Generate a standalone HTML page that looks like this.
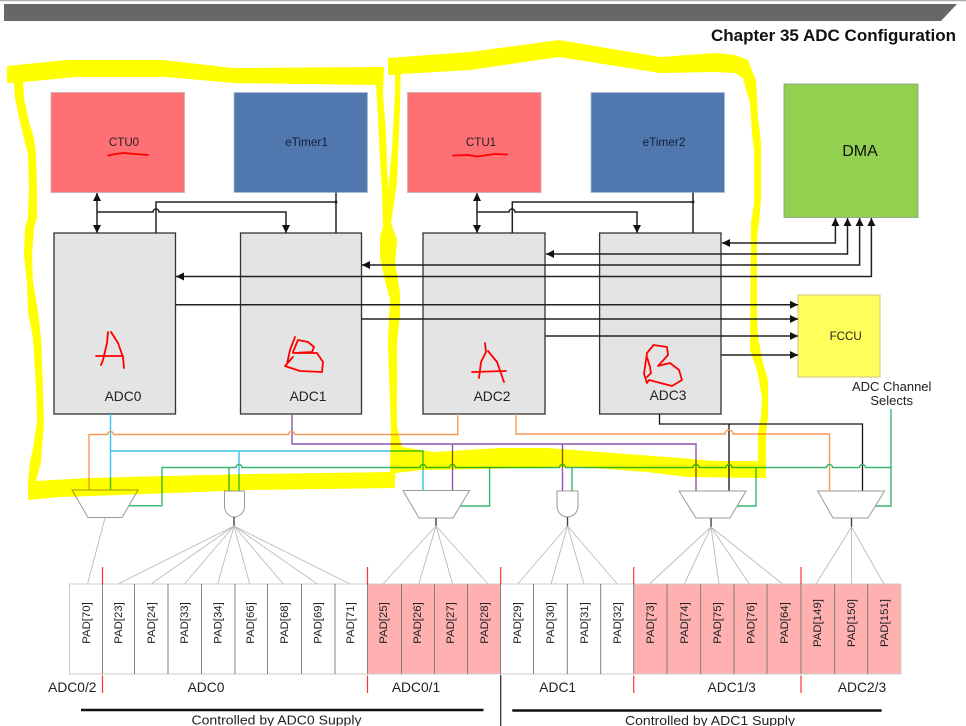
<!DOCTYPE html>
<html><head><meta charset="utf-8"><style>
html,body{margin:0;padding:0;background:#fff}
svg{display:block;filter:blur(.35px)}
text{font-family:"Liberation Sans",sans-serif;fill:#222}
.c{text-anchor:middle}
.l{fill:none;stroke:#222;stroke-width:1.5}
.g{fill:none;stroke:#3bb56e;stroke-width:1.4}
.o{fill:none;stroke:#f59a5a;stroke-width:1.4}
.b{fill:none;stroke:#38c0ee;stroke-width:1.4}
.p{fill:none;stroke:#8c54b4;stroke-width:1.4}
.k{fill:none;stroke:#111;stroke-width:1.3}
.f{stroke:#bbb;stroke-width:.9;fill:none}
.s{stroke:#444;stroke-width:1.4;fill:none}
.adc{fill:#e4e4e4;stroke:#333;stroke-width:1.3}
.m{fill:#fff;stroke:#999;stroke-width:1}
.r{fill:none;stroke:#f00;stroke-width:1.8;stroke-linejoin:round;stroke-linecap:round}
.t{stroke:#f33;stroke-width:1.2}
.d{stroke:#777;stroke-width:.9}
.pad{font-size:11.4px}
.lab{font-size:13.8px}
</style></head><body>
<svg width="966" height="726" viewBox="0 0 966 726" xmlns="http://www.w3.org/2000/svg">
<defs>
<marker id="a" markerUnits="userSpaceOnUse" markerWidth="9" markerHeight="8" refX="8" refY="4" orient="auto-start-reverse"><path d="M0 0L8 4L0 8Z" fill="#111"/></marker>
</defs>
<rect x="0" y="0" width="966" height="1.2" fill="#aaa"/>
<path d="M4 4H957L941 21H4Z" fill="#676767"/>
<text x="711" y="41" font-size="16.5" font-weight="700" textLength="245" lengthAdjust="spacingAndGlyphs" style="fill:#111">Chapter 35 ADC Configuration</text>

<!-- top blocks -->
<rect x="51" y="92.5" width="133.500" height="100" fill="#ff7074" stroke="#c9b0b0" stroke-width=".8"/>
<rect x="234" y="92.5" width="133.500" height="100" fill="#5078ae" stroke="#a9bcd6" stroke-width=".8"/>
<rect x="407.500" y="92.5" width="133.500" height="100" fill="#ff7074" stroke="#c9b0b0" stroke-width=".8"/>
<rect x="591" y="92.5" width="133.500" height="100" fill="#5078ae" stroke="#a9bcd6" stroke-width=".8"/>
<rect x="784" y="84" width="134" height="133.500" fill="#92d050" stroke="#8a9a80" stroke-width=".8"/>
<rect x="798" y="295" width="82" height="82" fill="#ffff5c" stroke="#c8c878" stroke-width="1"/>
<text class="c" x="124" y="146" font-size="11.6">CTU0</text>
<text class="c" x="306.500" y="146" font-size="11.800" style="fill:#10203a">eTimer1</text>
<text class="c" x="481" y="146" font-size="11.6">CTU1</text>
<text class="c" x="664" y="146" font-size="11.800" style="fill:#10203a">eTimer2</text>
<text class="c" x="860" y="156" font-size="16" style="fill:#111">DMA</text>
<text class="c" x="845.700" y="340" font-size="11.6">FCCU</text>

<!-- ADC blocks -->
<rect class="adc" x="54" y="233" width="121.500" height="181"/>
<rect class="adc" x="240.500" y="233" width="121" height="181"/>
<rect class="adc" x="423" y="233" width="122" height="181"/>
<rect class="adc" x="599.600" y="233" width="121.400" height="181"/>
<text class="c lab" x="123" y="401">ADC0</text>
<text class="c lab" x="308" y="401">ADC1</text>
<text class="c lab" x="492" y="401">ADC2</text>
<text class="c lab" x="668" y="400">ADC3</text>

<!-- top connectors -->
<path class="l" d="M97 193V233" marker-start="url(#a)" marker-end="url(#a)"/>
<path class="l" d="M97 212H153a3 3 0 0 1 6 0H286V233" marker-end="url(#a)"/>
<path class="l" d="M156 233V202H336M336 192.500V233"/>
<circle cx="336" cy="202" r="1.5" fill="#222"/>
<path class="l" d="M477 193V233" marker-start="url(#a)" marker-end="url(#a)"/>
<path class="l" d="M477 212H509a3 3 0 0 1 6 0H637V233" marker-end="url(#a)"/>
<path class="l" d="M512.300 233V202H693M693 192.500V233"/>
<circle cx="693" cy="202" r="1.5" fill="#222"/>

<!-- DMA lines -->
<path class="l" d="M835.400 218V243H722" marker-start="url(#a)" marker-end="url(#a)"/>
<path class="l" d="M847.500 218V254H546" marker-start="url(#a)" marker-end="url(#a)"/>
<path class="l" d="M859.600 218V265H362" marker-start="url(#a)" marker-end="url(#a)"/>
<path class="l" d="M871.400 218V276.500H176" marker-start="url(#a)" marker-end="url(#a)"/>
<!-- FCCU lines -->
<path class="l" d="M175.500 304.700H798" marker-end="url(#a)"/>
<path class="l" d="M361.500 319H798" marker-end="url(#a)"/>
<path class="l" d="M545 336H798" marker-end="url(#a)"/>
<path class="l" d="M721 355H798" marker-end="url(#a)"/>

<!-- bottom colored nets -->
<path class="b" d="M110.500 414V490M110.500 451H423V490M239 451V491"/>
<path class="p" d="M292 414V444H696V490.500M452.500 444V490.500M562.500 444V491"/>
<path class="k" d="M659.500 414V424H862.500V490.700M729 424V490.700"/>
<path class="o" d="M457.700 414V434.500H294.500a3 3 0 0 0 -6 0H113.500a3 3 0 0 0 -6 0H89V490"/>
<path class="o" d="M516 414V434H725a4 4 0 0 1 8 0H829.500V490.700"/>
<path class="g" d="M129 505.700H162V467.500H236a3 3 0 0 1 6 0H420a3 3 0 0 1 6 0H449.500a3 3 0 0 1 6 0H559.500a3 3 0 0 1 6 0H693a3 3 0 0 1 6 0H726a3 3 0 0 1 6 0H826.500a3 3 0 0 1 6 0H859.500a3 3 0 0 1 6 0H891"/>
<path class="g" d="M229 467.500V491M489.600 467.500V506H460M572 467.500V491M756 467.500V506H737M891 409V506H875"/>

<!-- muxes and gates -->
<path class="m" d="M72 490H138L122 517.500H88Z"/>
<path class="m" d="M403 490.500H469.500L453 518H419Z"/>
<path class="m" d="M679 491H746L730 518H696Z"/>
<path class="m" d="M817.700 491H884.500L868 518H833Z"/>
<path class="m" d="M224.500 491H244.500V506A10 11 0 0 1 224.500 506Z"/>
<path class="m" d="M557 491H578V506A10.500 11 0 0 1 557 506Z"/>

<!-- stubs -->
<path class="s" d="M234 517V526M436 518V526M567.500 517V526M711 518V527M851.500 518V527"/>
<!-- fans -->
<path class="f" d="M105 518L87.500 584"/>
<path class="f" d="M234 526L118 584M234 526L151 584M234 526L184.500 584M234 526L217.700 584M234 526L249.700 584M234 526L283.300 584M234 526L317.300 584M234 526L350 584"/>
<path class="f" d="M436 526L383 584M436 526L418.700 584M436 526L452.600 584M436 526L488 584"/>
<path class="f" d="M567.500 526L517.700 584M567.500 526L551 584M567.500 526L584 584M567.500 526L617.300 584"/>
<path class="f" d="M711 527L649.300 584M711 527L684.300 584M711 527L719 584M711 527L749.300 584M711 527L782.700 584"/>
<path class="f" d="M851.500 527L816 584M851.500 527V584M851.500 527L884 584"/>

<!-- pads -->
<rect x="69.500" y="584" width="298" height="90" fill="#fff"/>
<rect x="367.500" y="584" width="133" height="90" fill="#ffb0b0"/>
<rect x="500.500" y="584" width="133.200" height="90" fill="#fff"/>
<rect x="633.700" y="584" width="267.300" height="90" fill="#ffb0b0"/>
<rect x="69.500" y="584" width="831.500" height="90" fill="none" stroke="#ccc" stroke-width="1"/>
<path class="d" d="M102.500 584V674M134.500 584V674M168 584V674M201.500 584V674M235 584V674M267.500 584V674M301.500 584V674M335 584V674M367.500 584V674M401.500 584V674M434.500 584V674M467.500 584V674M500.500 584V674M533.500 584V674M567.300 584V674M600.700 584V674M633.700 584V674M667 584V674M700.700 584V674M734 584V674M767 584V674M801 584V674M834.700 584V674M867.700 584V674"/>
<g class="pad">
<text class="c" transform="translate(90 623) rotate(-90)">PAD[70]</text>
<text class="c" transform="translate(122 623) rotate(-90)">PAD[23]</text>
<text class="c" transform="translate(155 623) rotate(-90)">PAD[24]</text>
<text class="c" transform="translate(188 623) rotate(-90)">PAD[33]</text>
<text class="c" transform="translate(221.500 623) rotate(-90)">PAD[34]</text>
<text class="c" transform="translate(254 623) rotate(-90)">PAD[66]</text>
<text class="c" transform="translate(288 623) rotate(-90)">PAD[68]</text>
<text class="c" transform="translate(321.500 623) rotate(-90)">PAD[69]</text>
<text class="c" transform="translate(354 623) rotate(-90)">PAD[71]</text>
<text class="c" transform="translate(387 623) rotate(-90)">PAD[25]</text>
<text class="c" transform="translate(421 623) rotate(-90)">PAD[26]</text>
<text class="c" transform="translate(454 623) rotate(-90)">PAD[27]</text>
<text class="c" transform="translate(488 623) rotate(-90)">PAD[28]</text>
<text class="c" transform="translate(521 623) rotate(-90)">PAD[29]</text>
<text class="c" transform="translate(554 623) rotate(-90)">PAD[30]</text>
<text class="c" transform="translate(588 623) rotate(-90)">PAD[31]</text>
<text class="c" transform="translate(621 623) rotate(-90)">PAD[32]</text>
<text class="c" transform="translate(654 623) rotate(-90)">PAD[73]</text>
<text class="c" transform="translate(688 623) rotate(-90)">PAD[74]</text>
<text class="c" transform="translate(721 623) rotate(-90)">PAD[75]</text>
<text class="c" transform="translate(754.700 623) rotate(-90)">PAD[76]</text>
<text class="c" transform="translate(788 623) rotate(-90)">PAD[64]</text>
<text class="c" transform="translate(821 623) rotate(-90)">PAD[149]</text>
<text class="c" transform="translate(855 623) rotate(-90)">PAD[150]</text>
<text class="c" transform="translate(888 623) rotate(-90)">PAD[151]</text>
</g>

<!-- ticks -->
<path class="t" d="M102.500 567V584M102.500 675.500V693M367.500 567V584M367.500 675.500V693M500.700 567V584M633.700 567V584M633.700 675.500V693M801 567V584M801 675.500V693"/>
<path d="M500.700 675V726" stroke="#333" stroke-width="1.300"/>

<!-- group labels -->
<text class="c lab" x="72.300" y="692">ADC0/2</text>
<text class="c lab" x="206" y="692">ADC0</text>
<text class="c lab" x="416" y="692">ADC0/1</text>
<text class="c lab" x="557.700" y="692">ADC1</text>
<text class="c lab" x="731.700" y="692">ADC1/3</text>
<text class="c lab" x="862" y="692">ADC2/3</text>
<text class="c" x="891.700" y="391" font-size="13">ADC Channel</text>
<text class="c" x="891.700" y="405" font-size="13">Selects</text>

<path d="M81 710H483.500M512.300 710.500H881.700" stroke="#111" stroke-width="2.500"/>
<text x="191.500" y="724.500" font-size="13.300" textLength="170" lengthAdjust="spacingAndGlyphs">Controlled by ADC0 Supply</text>
<text x="625" y="725" font-size="13.300" textLength="170" lengthAdjust="spacingAndGlyphs">Controlled by ADC1 Supply</text>

<!-- yellow highlighter -->
<g style="mix-blend-mode:multiply" fill="#ff0" fill-rule="evenodd">
<path d="M7 66L67 60L163 60L233 68L384 67L383 93L386 133L388 190L391 223L397 240L395 263L400 293L400 313L397 343L397 427L395 440L395 488L250 490L120 495L60 497L28 500L28 482L30 462L33 448L37 422L36 388L33 338L28 312L27 282L24 255L25 228L28 218L29 188L28 155L24 138L20 122L15 98L14 83L7 83Z
M23 82L77 77L167 77L233 83L376 85L378 117L380 160L382 190L383 227L380 237L380 257L385 280L390 300L388 343L391 427L390 472L250 474L167 476L88 478L36 481L41 462L42 448L44 422L43 388L41 338L38 312L33 282L32 255L34 228L37 218L37 188L36 155L34 138L29 122L24 98Z"/>
<path d="M388 58L470 52L559 40L660 57L716 53L735 55L748 60L753 73L756 80L758 117L761 143L761 200L759 223L757 237L757 317L758 337L763 363L768 380L768 417L766 433L766 478L687 477L647 472L580 467L423 470L395 473L391 427L388 343L390 300L385 280L380 257L380 237L383 227L388 190L392 150L395 93L395 75L388 75Z
M400.700 74L470 70L559 57L660 73L716 72L735 73L743 78L747 93L750 103L752 133L754 150L754 203L751 223L750 350L757 370L762 397L761 417L758 433L758 461L713 461L680 458L613 453L547 448L500 448L433 452L402 447L397 427L397 343L400 313L400 293L395 263L397 240L391 223L397 183L400 107Z"/>
</g>

<!-- red ink -->
<g class="r">
<path d="M108 155.500L116 154L123 153L135 154L148 155"/>
<path d="M453 155.500L468 155L477 156.500L495 154L507 154.500"/>
<path d="M108 332L107 343L103 360L101 365M111 332L118 343L123 357L124 368M96 356L123 356"/>
<path d="M295 337L290 350L287 364M293 352L298 340L308 342L314 347L312 352L293 353L317 353L323 362L322 372L300 371L285 366L293 357"/>
<path d="M485 343L486 352L481 362L479 378M488 351L497 362L504 382M472 372L506 371"/>
<path d="M653.600 345L667 347L668 355L658 366L670 363L679 370L682 380L672 386L649 380L647 383L644 374L647 353L653.600 345M647 377L651 373L650 367L647 357"/>
</g>
</svg>
</body></html>
